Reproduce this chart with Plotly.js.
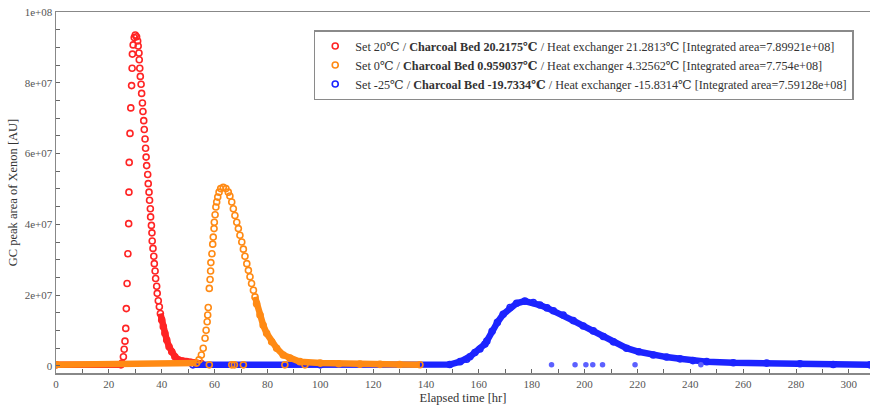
<!DOCTYPE html>
<html>
<head>
<meta charset="utf-8">
<script src="https://cdn.plot.ly/plotly-3.0.1.min.js"></script>
<style>html,body{margin:0;padding:0;background:#fff;}#chart{width:870px;height:405px;}</style>
</head>
<body>
<div id="chart"></div>
<script>
// Values are in units of 1e6 AU (GC peak area), time in hours
const SCALE = 1e6;

const seriesNames = [
  'Set 20\u2103 / <b>Charcoal Bed 20.2175\u2103</b> / Heat exchanger 21.2813\u2103 [Integrated area=7.89921e+08]',
  'Set 0\u2103 / <b>Charcoal Bed 0.959037\u2103</b> / Heat exchanger 4.32562\u2103 [Integrated area=7.754e+08]',
  'Set -25\u2103 / <b>Charcoal Bed -19.7334\u2103</b> / Heat exchanger -15.8314\u2103 [Integrated area=7.59128e+08]'
];

const redT = [0, 24.6, 25.0, 25.5, 25.8, 26.1, 26.4, 26.6, 26.9, 27.2, 27.5, 27.6, 27.7, 28.0, 28.3, 28.6, 28.8, 28.9, 29.2, 29.6, 30.0, 30.5, 30.9,
  31.1, 31.4, 31.5, 31.7, 31.9, 32.2, 32.4, 32.7, 32.9, 33.2, 33.4, 33.7, 33.9, 34.1, 34.3, 34.7, 34.9, 35.2, 35.4, 35.7, 35.8, 36.1, 36.3, 36.4,
  36.7, 37.0, 37.2, 37.5, 37.7, 38.1, 38.3, 38.7, 39.1, 39.5, 40.0, 40.6, 41.2, 41.9, 42.8, 43.8, 45.0, 46.3, 47.8, 49.4, 51.0, 52.6, 55.0];
const redV = [0.3, 0.3, 0.8, 2.6, 4.7, 7.0, 10.6, 16.2, 23.3, 31.7, 40.2, 49.1, 57.5, 65.7, 72.9, 79.2, 84.1, 88.1, 90.7, 92.8, 93.5, 93.0, 91.8,
  90.4, 88.4, 86.5, 84.1, 81.8, 79.6, 77.0, 74.3, 71.9, 69.3, 66.8, 64.1, 61.5, 59.0, 56.6, 54.1, 51.5, 49.1, 46.8, 44.4, 42.1, 39.7, 37.6, 35.3,
  33.2, 31.0, 28.9, 26.8, 24.7, 22.5, 20.5, 18.4, 16.7, 14.8, 13.0, 11.1, 9.2, 7.3, 5.4, 4.0, 2.6, 1.7, 1.4, 1.2, 1.0, 0.9, 0.7];

const orangeT = [0, 53.2, 54.1, 55.0, 55.7, 56.4, 56.8, 57.2, 57.4, 57.6, 58.0, 58.3, 58.5, 58.6, 59.0, 59.3, 59.5, 59.8, 59.9, 60.2, 60.5, 60.8,
  61.2, 61.7, 62.3, 63.3, 64.3, 65.2, 65.8, 66.5, 67.1, 67.7, 68.4, 69.0, 69.6, 70.3, 70.9, 71.5, 72.2, 72.8, 73.4, 74.0, 74.7, 75.3, 75.9,
  77.2, 78.4, 79.7, 81.6, 83.5, 86.0, 88.5, 92.3, 100.0, 107.0, 115.0, 122.6, 130.0, 137.7];
const orangeV = [0.3, 0.8, 1.7, 3.1, 5.0, 7.8, 10.1, 12.5, 14.4, 16.5, 21.9, 24.4, 26.8, 29.2, 31.7, 34.4, 36.4, 38.8, 40.6, 42.7, 44.9, 46.3,
  47.7, 49.1, 50.1, 50.5, 50.1, 49.1, 48.0, 46.3, 44.4, 42.5, 40.6, 38.8, 36.9, 35.0, 33.0, 31.0, 28.9, 27.0, 25.2, 23.3, 21.4, 19.5, 17.6,
  14.4, 11.5, 9.2, 6.8, 5.0, 3.1, 2.2, 1.2, 0.8, 0.6, 0.5, 0.45, 0.4, 0.35];
// isolated low readings of the Set 0 run
const orangeLowT = [58.0, 66.5, 67.5, 70.9, 86.6, 94.2];
const orangeLowV = [0.3, 0.3, 0.3, 0.3, 0.3, 0.3];

const blueT = [51.8, 100.0, 149.0, 152.9, 155.4, 156.6, 158.5, 160.4, 162.3, 163.0, 165.0, 167.0, 169.2, 171.8, 174.3, 177.4, 180.6, 183.1,
  185.8, 188.2, 191.9, 195.7, 199.5, 203.3, 207.1, 210.9, 215.9, 220.5, 226.0, 231.0, 236.1, 241.0, 246.2, 256.3, 268.9, 281.5, 294.1, 308.0];
const blueV = [0.3, 0.3, 0.4, 1.2, 1.9, 2.6, 3.8, 4.8, 6.2, 7.0, 9.8, 12.3, 14.6, 16.5, 17.7, 18.3, 17.9, 17.2,
  16.4, 15.6, 14.4, 12.8, 11.3, 9.9, 8.3, 6.8, 5.0, 4.0, 3.1, 2.5, 2.0, 1.5, 1.2, 0.9, 0.8, 0.6, 0.4, 0.3];
// isolated low readings of the Set -25 run
const blueLowT = [187.5, 196.4, 200.5, 203.1, 206.8, 219.1, 244.0];
const blueLowV = [0.3, 0.3, 0.3, 0.3, 0.3, 0.3, 0.3];

const xTickVals = [0, 20, 40, 60, 80, 100, 120, 140, 160, 180, 200, 220, 240, 260, 280, 300];
const yTickVals = [0, 2e7, 4e7, 6e7, 8e7, 1e8];
const yTickText = ['0', '2e+07', '4e+07', '6e+07', '8e+07', '1e+08'];

const RED = '#ff2424', ORANGE = '#ff8a14', BLUE = '#1c24ff', BLUE_LIGHT = '#5c60ff';
const SERIF = '"Liberation Serif", "Times New Roman", "DejaVu Serif", serif';

function scaled(V) { return V.map(v => v * SCALE); }
// dense stretches of each run are drawn as a thick band through the read points
function band(T, V, ranges) {
  const x = [], y = [];
  ranges.forEach((r, i) => {
    if (i) { x.push(null); y.push(null); }
    T.forEach((t, j) => { if (t >= r[0] && t <= r[1]) { x.push(t); y.push(V[j] * SCALE); } });
  });
  return {x, y};
}
function bandTrace(b, color) {
  return {x: b.x, y: b.y, type: 'scatter', mode: 'lines', connectgaps: false,
    line: {color: color, width: 6.5}, showlegend: false, hoverinfo: 'skip'};
}
function dotTrace(T, V, color, name, rank) {
  return {x: T, y: scaled(V), type: 'scatter', mode: 'markers', name: name, legendrank: rank,
    marker: {symbol: 'circle-open', size: 6, color: color, line: {color: color, width: 1.6}}};
}

const blueDots = dotTrace(blueT, blueV, BLUE, seriesNames[2], 3);
const blueLow = {x: blueLowT, y: scaled(blueLowV), type: 'scatter', mode: 'markers', showlegend: false,
  marker: {symbol: 'circle', size: 5.5, color: BLUE_LIGHT}};

const traces = [
  bandTrace(band(redT, redV, [[0, 25.0], [39.5, 55]]), RED),
  dotTrace(redT, redV, RED, seriesNames[0], 1),
  bandTrace(band(blueT, blueV, [[0, 400]]), BLUE),
  blueDots,
  blueLow,
  bandTrace(band(orangeT, orangeV, [[0, 53.2], [75.3, 200]]), ORANGE),
  dotTrace(orangeT.concat(orangeLowT), orangeV.concat(orangeLowV), ORANGE, seriesNames[1], 2)
];

const layout = {
  width: 870, height: 405,
  margin: {l: 56, r: 0, t: 12, b: 32},
  paper_bgcolor: '#fff', plot_bgcolor: '#fff',
  font: {family: SERIF, color: '#333'},
  showlegend: true,
  legend: {
    x: 0.98, xanchor: 'right', y: 0.95, yanchor: 'top',
    bgcolor: '#fff', bordercolor: '#8a8a8a', borderwidth: 1.5,
    font: {family: SERIF, size: 12.2, color: '#333'},
    traceorder: 'normal'
  },
  xaxis: {
    range: [0, 308], tickmode: 'array', tickvals: xTickVals,
    ticks: 'inside', ticklen: 4, tickwidth: 1, tickcolor: '#666',
    minor: {tickmode: 'linear', tick0: 0, dtick: 10, ticks: 'inside', ticklen: 4, tickcolor: '#666'},
    showline: true, linecolor: '#888', linewidth: 1.5, mirror: true,
    showgrid: false, zeroline: false, automargin: false,
    tickfont: {family: SERIF, size: 11, color: '#555'},
    title: {text: 'Elapsed time [hr]', font: {family: SERIF, size: 12.5, color: '#333'}, standoff: 4}
  },
  yaxis: {
    range: [-2e6, 1e8], tickmode: 'array', tickvals: yTickVals, ticktext: yTickText,
    ticks: 'inside', ticklen: 4, tickwidth: 1, tickcolor: '#666',
    minor: {tickmode: 'linear', tick0: 0, dtick: 5e6, ticks: 'inside', ticklen: 4, tickcolor: '#666'},
    showline: true, linecolor: '#888', linewidth: 1.5,
    showgrid: false, zeroline: false, automargin: false,
    tickfont: {family: SERIF, size: 11, color: '#555'},
    title: {text: 'GC peak area of Xenon [AU]', font: {family: SERIF, size: 12.5, color: '#333'}, standoff: 4}
  }
};

Plotly.newPlot('chart', traces, layout, {displayModeBar: false, staticPlot: true});
</script>
</body>
</html>
